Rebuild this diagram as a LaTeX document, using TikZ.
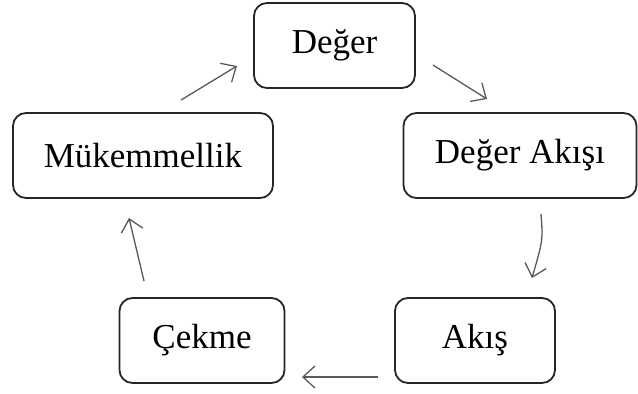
\documentclass[tikz,border=0pt]{standalone}
\usepackage{fontspec}
\setmainfont{Liberation Serif}
\usetikzlibrary{arrows.meta}
\tikzset{
  box/.style={draw=black!85, line width=1.8pt, rounded corners=13pt, inner sep=0pt,
    font=\fontsize{35}{40}\selectfont, text=black, minimum height=85pt},
  flow/.style={draw=black!65, line width=1.3pt,
    -{Straight Barb[length=12pt,width=22pt,line width=1.3pt]}}
}
\begin{document}
\begin{tikzpicture}[x=1pt,y=-1pt]
\useasboundingbox (0,0) rectangle (638,394);
\node[box, minimum width=161pt] (deger) at (334.5,45.5) {Değer};
\node[box, minimum width=233pt] (akisi) at (520,155.5) {Değer Akışı};
\node[box, minimum width=260pt] (muk) at (143,155.5) {Mükemmellik};
\node[box, minimum width=165pt] (cekme) at (202,340.5) {Çekme};
\node[box, minimum width=160pt] (akis) at (475,340.5) {Akış};
\coordinate (a1s) at (181,100); \coordinate (a1e) at (237,66);
\coordinate (a2s) at (433,65); \coordinate (a2e) at (487,99);
\coordinate (a3s) at (541,214); \coordinate (a3e) at (532,278);
\coordinate (a4s) at (378,377); \coordinate (a4e) at (302,377);
\coordinate (a5s) at (144,281); \coordinate (a5e) at (129,218);
\draw[flow] (a1s) -- (a1e);
\draw[flow] (a2s) -- (a2e);
\draw[flow] (a3s) .. controls (543,240) .. (a3e);
\draw[flow] (a4s) -- (a4e);
\draw[flow] (a5s) -- (a5e);
\end{tikzpicture}
\end{document}
